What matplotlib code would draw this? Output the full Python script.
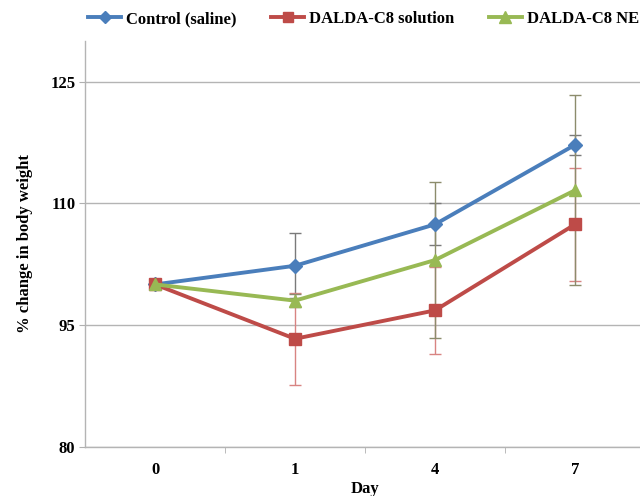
import matplotlib.pyplot as plt
from matplotlib.lines import Line2D
import numpy as np

# data
days = ['0', '1', '4', '7']
control = [100.0, 102.3, 107.4, 117.2]
control_err = [0.0, 4.0, 2.6, 1.2]
solution = [100.0, 93.3, 96.8, 107.4]
solution_err = [0.0, 5.7, 5.4, 7.0]
ne = [100.0, 98.0, 103.0, 111.6]
ne_err = [0.0, 0.8, 9.6, 11.7]

plt.rcParams['font.family'] = ['Liberation Serif', 'DejaVu Serif']
plt.rcParams['font.weight'] = 'bold'

fig = plt.figure(figsize=(6.4, 4.96), dpi=100)
ax = fig.add_axes([85 / 640, 1 - 446.7 / 496, 560 / 640, (446.7 - 41) / 496])

x = np.arange(len(days))
series = [
    ('Control (saline)', control, control_err, '#4a7ebb', 'D', 7, '#7a7a7a'),
    ('DALDA-C8 solution', solution, solution_err, '#be4b48', 's', 8, '#d88482'),
    ('DALDA-C8 NE', ne, ne_err, '#98b954', '^', 9, '#8c8c6c'),
]
handles = []
for label, y, err, color, marker, ms, ecolor in series:
    ax.errorbar(x, y, yerr=err, color=color, marker=marker, markersize=ms,
                linewidth=2.8, ecolor=ecolor, elinewidth=1.0, capsize=4,
                capthick=1.0, zorder=3)
    handles.append(Line2D([], [], color=color, marker=marker, markersize=ms - 1,
                          linewidth=2.8))

ax.set_xlim(-0.5, len(days) - 0.5)
ax.set_ylim(80, 130)
ax.set_yticks([80, 95, 110, 125])
ax.set_xticks(x)
ax.set_xticklabels(days)
ax.set_xticks(x[:-1] + 0.5, minor=True)
ax.tick_params(axis='x', which='major', length=0, pad=11, labelsize=12)
ax.tick_params(axis='x', which='minor', length=4, color='#b0b0b0', direction='out')
ax.tick_params(axis='y', length=4, color='#b0b0b0', labelsize=12, pad=3)
ax.yaxis.grid(True, color='#b4b4b4', linewidth=1.0)
ax.set_axisbelow(True)
for s in ['top', 'right']:
    ax.spines[s].set_visible(False)
for s in ['left', 'bottom']:
    ax.spines[s].set_color('#b4b4b4')
    ax.spines[s].set_linewidth(1.0)

ax.set_xlabel('Day', fontsize=12, fontweight='bold', labelpad=2)
ax.set_ylabel('% change in body weight', fontsize=12, fontweight='bold', labelpad=12)

fig.legend(handles=handles, labels=[s[0] for s in series], loc='center left',
           bbox_to_anchor=(88 / 640, 1 - 19 / 496), ncol=3, frameon=False,
           fontsize=12, handlelength=2.0, handletextpad=0.3, columnspacing=2.05,
           borderaxespad=0, borderpad=0)

fig.savefig('out.png', dpi=100)
